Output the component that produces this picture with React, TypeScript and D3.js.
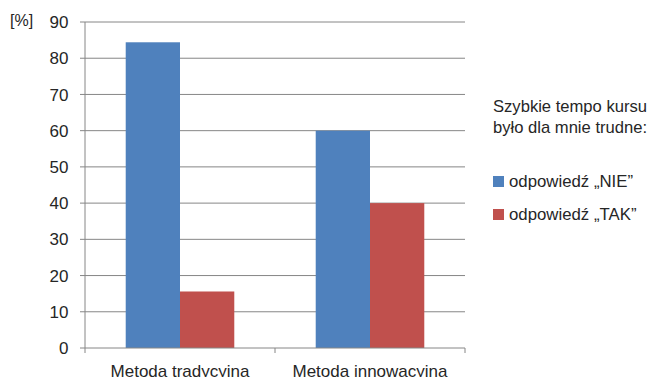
import React from "react";
import * as d3 from "d3";

const categories = ["Metoda tradycyjna", "Metoda innowacyjna"];
const seriesNames = ["odpowiedź „NIE”", "odpowiedź „TAK”"];
const nieValues = [84.4, 60];
const takValues = [15.6, 40];
const yTicks = [0, 10, 20, 30, 40, 50, 60, 70, 80, 90];
const legendTitle = ["Szybkie tempo kursu", "było dla mnie trudne:"];
const colors = ["#4F81BD", "#C0504D"];

export default function App() {
  const W = 656, H = 377;
  const left = 85, right = 465, top = 22, bottom = 348;
  const font = "'Liberation Sans', Arial, sans-serif";
  const x = d3.scaleBand<string>().domain(categories).range([left, right]).paddingInner(0).paddingOuter(0);
  const y = d3.scaleLinear().domain([0, 90]).range([bottom, top]);
  const inner = d3.scaleBand<string>().domain(seriesNames).range([0, x.bandwidth()]).paddingInner(0).paddingOuter(0.75);
  const series = [nieValues, takValues];
  return (
    <svg width={W} height={H} style={{ position: "absolute", left: 0, top: 0, background: "#fff" }}>
      {yTicks.map((t) => (
        <g key={t}>
          {t > 0 && <line x1={left} x2={right} y1={y(t)} y2={y(t)} stroke="#868686" strokeWidth={1} />}
          <line x1={left - 5} x2={left} y1={y(t)} y2={y(t)} stroke="#868686" strokeWidth={1} />
          <text x={68.5} y={y(t)} dy="0.36em" textAnchor="end" fontFamily={font} fontSize={17} fill="#262626">{t}</text>
        </g>
      ))}
      {categories.map((c, i) =>
        series.map((vals, s) => (
          <rect key={c + s} x={x(c)! + inner(seriesNames[s])!} y={y(vals[i])} width={inner.bandwidth()} height={bottom - y(vals[i])} fill={colors[s]} />
        ))
      )}
      <line x1={left} x2={left} y1={top} y2={bottom} stroke="#868686" strokeWidth={1} />
      <line x1={left} x2={right} y1={bottom} y2={bottom} stroke="#868686" strokeWidth={1} />
      {[left, left + x.bandwidth(), right].map((tx, i) => (
        <line key={i} x1={tx} x2={tx} y1={bottom} y2={bottom + 5} stroke="#868686" strokeWidth={1} />
      ))}
      {categories.map((c) => (
        <text key={c} x={x(c)! + x.bandwidth() / 2} y={377} textAnchor="middle" fontFamily={font} fontSize={17} fill="#262626">{c}</text>
      ))}
      <text x={10} y={26} fontFamily={font} fontSize={16} fill="#262626">[%]</text>
      {legendTitle.map((l, i) => (
        <text key={i} x={493} y={112 + i * 21} fontFamily={font} fontSize={16.6} fill="#262626">{l}</text>
      ))}
      {seriesNames.map((n, i) => (
        <g key={n}>
          <rect x={493} y={176 + i * 33} width={11} height={11} fill={colors[i]} />
          <text x={509} y={187 + i * 33} fontFamily={font} fontSize={16.8} fill="#262626">{n}</text>
        </g>
      ))}
    </svg>
  );
}
